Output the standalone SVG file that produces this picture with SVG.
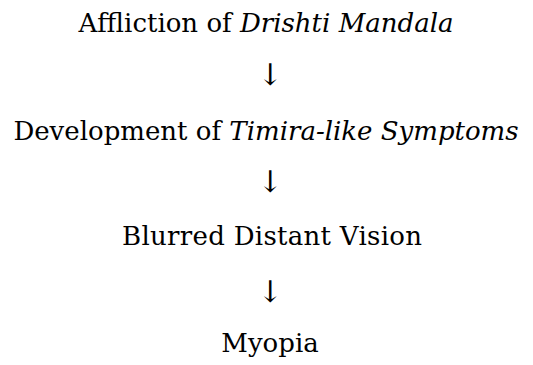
<svg xmlns="http://www.w3.org/2000/svg" width="533" height="365" viewBox="0 0 533 365">
<style>
text{font-family:"DejaVu Serif","Liberation Serif",serif;font-size:26px;fill:#000;text-anchor:middle}
.i{font-style:italic}
.a{font-size:30px}
</style>
<rect width="533" height="365" fill="#fff"/>
<g id="n1"><text x="266" y="32">Affliction of <tspan class="i">Drishti Mandala</tspan></text></g>
<g id="n2"><text x="266" y="140">Development of <tspan class="i">Timira-like Symptoms</tspan></text></g>
<g id="n3"><text x="272" y="245" textLength="300">Blurred Distant Vision</text></g>
<g id="n4"><text x="270" y="352">Myopia</text></g>
<g id="connectors">
<text class="a" x="270" y="85">↓</text>
<text class="a" x="270" y="192">↓</text>
<text class="a" x="270" y="302">↓</text>
</g>
</svg>
